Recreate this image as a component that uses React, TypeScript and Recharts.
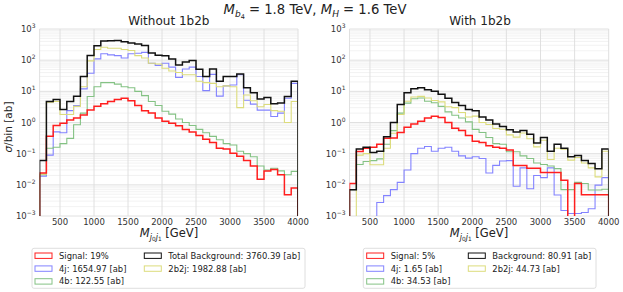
import React from 'react';
import { LineChart, Line, XAxis, YAxis, CartesianGrid } from 'recharts';

// ---- data -------------------------------------------------------------
const binEdges = [200, 300, 400, 500, 600, 700, 800, 900, 1000, 1100, 1200, 1300, 1400, 1500, 1600, 1700, 1800, 1900,
  2000, 2100, 2200, 2300, 2400, 2500, 2600, 2700, 2800, 2900, 3000, 3100, 3200, 3300, 3400, 3500, 3600, 3700, 3800, 3900];
const xTicks = [500, 1000, 1500, 2000, 2500, 3000, 3500, 4000];
const yTicks = [0.001, 0.01, 0.1, 1, 10, 100, 1000];

// Without 1b2b
const signalA = [0.024, 0.36, 0.8, 0.95, 1.2, 1.4, 1.75, 2.5, 3.3, 4.0, 4.7, 5.5, 6.0, 5.0, 3.5, 2.4, 2.0, 1.4,
  1.1, 0.95, 0.78, 0.6, 0.5, 0.38, 0.29, 0.23, 0.15, 0.14, 0.104, 0.083, 0.06, 0.04, 0.015, 0.028, 0.031, 0.021, 0.0048, 0.0079];
const fourJA = [0.019, 0.09, 0.5, 0.47, 2.4, 3.5, 12, 38, 110, 160, 148, 140, 118, 160, 166, 178, 80, 68,
  80, 60, 28, 52, 60, 30, 10.5, 35, 7, 15, 16, 34, 5.2, 3.9, 2.5, 2.5, 1.55, 2.0, 6.0, 18];
const fourBA = [0.021, 0.15, 0.16, 0.21, 0.31, 0.85, 2.0, 6.8, 14, 19, 19, 17, 14, 13, 10, 7.3, 4.7, 3.5,
  2.3, 1.85, 1.3, 1.0, 0.8, 0.6, 0.47, 0.36, 0.28, 0.21, 0.19, 0.12, 0.1, 0.08, 0.04, 0.03, 0.034, 0.028, 0.021, 0.027];
const totalA = [0.06, 4.7, 5.5, 2.6, 4.7, 7, 30, 140, 290, 410, 420, 430, 390, 355, 330, 295, 170, 145,
  138, 110, 70, 87, 97, 51, 30, 52, 21, 30, 30, 36, 13, 9, 5.7, 6.3, 4.0, 4.2, 6.8, 21];
const twoB2jA = [0.022, 4.5, 4.7, 1.8, 1.8, 3.3, 14, 95, 220, 260, 240, 240, 220, 205, 140, 118, 80, 75,
  55, 45, 40, 34, 34, 21, 19, 18, 14, 15, 14, 3.0, 7.6, 5.0, 3.2, 3.8, 2.4, 2.3, 1.0, 4.7];

// With 1b2b
const signalB = [0.011, 0.117, 0.15, 0.16, 0.2, 0.31, 0.32, 0.48, 0.7, 0.9, 1.1, 1.4, 1.6, 1.45, 1.0, 0.65, 0.55, 0.38,
  0.25, 0.23, 0.18, 0.16, 0.15, 0.13, 0.042, 0.042, 0.034, 0.034, 0.025, 0.025, 0.025, 0.014, 0.00001, 0.011, 0.0048, 0.0048, 0.0048, 0.0048];
const fourJB = [0.00001, 0.00001, 0.00001, 0.00001, 0.0027, 0.0045, 0.007, 0.012, 0.03, 0.1, 0.15, 0.17, 0.12, 0.15, 0.16, 0.12, 0.085, 0.072,
  0.08, 0.07, 0.024, 0.042, 0.058, 0.06, 0.009, 0.035, 0.0075, 0.02, 0.017, 0.035, 0.0047, 0.0015, 0.0012, 0.0012, 0.0013, 0.0017, 0.0098, 0.017];
const fourBB = [0.007, 0.045, 0.056, 0.06, 0.068, 0.2, 0.55, 2.0, 4.2, 5.8, 6.1, 4.8, 4.3, 3.3, 2.2, 1.7, 1.4, 1.05,
  0.6, 0.48, 0.33, 0.21, 0.2, 0.115, 0.115, 0.085, 0.07, 0.05, 0.045, 0.04, 0.033, 0.007, 0.007, 0.012, 0.011, 0.0068, 0.0068, 0.0072];
const totalB = [0.007, 0.14, 0.16, 0.11, 0.12, 0.35, 1.0, 3.8, 9, 12, 13, 11.3, 10, 8, 6, 4.4, 3.5, 2.6,
  2.4, 1.5, 1.2, 0.9, 0.75, 0.58, 0.5, 0.55, 0.42, 0.22, 0.33, 0.12, 0.2, 0.15, 0.08, 0.088, 0.06, 0.048, 0.033, 0.14];
const twoB2jB = [0.00001, 0.09, 0.1, 0.044, 0.044, 0.15, 0.45, 1.8, 4.8, 6.6, 6.9, 6.1, 5.1, 4.6, 3.2, 3.0, 2.1, 1.5,
  1.6, 1.0, 0.86, 0.64, 0.61, 0.4, 0.34, 0.46, 0.3, 0.165, 0.27, 0.065, 0.15, 0.14, 0.062, 0.075, 0.05, 0.035, 0.018, 0.12];

const legendA = ['Signal: 19%', '4j: 1654.97 [ab]', '4b: 122.55 [ab]', 'Total Background: 3760.39 [ab]', '2b2j: 1982.88 [ab]'];
const legendB = ['Signal: 5%', '4j: 1.65 [ab]', '4b: 34.53 [ab]', 'Background: 80.91 [ab]', '2b2j: 44.73 [ab]'];

// ---- styling ----------------------------------------------------------
const FONT = 'DejaVu Sans';
const FLOOR = 1e-6;
const C = {
  sig: '#ff1e1e',
  j4: '#8383ff',
  b4: '#84c284',
  tot: '#111111',
  y: '#dcdc7c',
};

type Series = { sig: number[]; j4: number[]; b4: number[]; tot: number[]; y: number[] };

function buildRows(s: Series) {
  const keys = Object.keys(s) as (keyof Series)[];
  const rows: any[] = [];
  const first: any = { x: binEdges[0] };
  keys.forEach((k) => (first[k] = FLOOR));
  rows.push(first);
  binEdges.forEach((e, i) => {
    const r: any = { x: e };
    keys.forEach((k) => (r[k] = s[k][i]));
    rows.push(r);
  });
  const last: any = { x: 4000 };
  keys.forEach((k) => (last[k] = s[k][s[k].length - 1]));
  rows.push(last);
  const end: any = { x: 4000 };
  keys.forEach((k) => (end[k] = FLOOR));
  rows.push(end);
  return rows;
}

const minorVals: number[] = [];
for (let d = -3; d < 3; d++) for (let m = 2; m <= 9; m++) minorVals.push(m * Math.pow(10, d));

const YTick = (props: any) => {
  const { x, y, payload } = props;
  const e = Math.round(Math.log10(payload.value));
  return (
    <text x={x} y={y + 3} textAnchor="end" fontSize={8.5} fill="#333" fontFamily={FONT}>
      10<tspan dy={-4} fontSize={6}>{e < 0 ? '\u2212' + -e : String(e)}</tspan>
    </text>
  );
};

const XTick = (props: any) => {
  const { x, y, payload } = props;
  return (
    <text x={x} y={y + 9} textAnchor="middle" fontSize={8.5} fill="#333" fontFamily={FONT}>
      {payload.value}
    </text>
  );
};

function Panel({ rows, left, width, yw, mr }: { rows: any[]; left: number; width: number; yw: number; mr: number }) {
  const H = 250;
  return (
    <div style={{ position: 'absolute', left, top: 0 }}>
      <LineChart width={width} height={H} data={rows} margin={{ top: 29, right: mr, left: 0, bottom: 14 }}>
        <CartesianGrid horizontalValues={minorVals} vertical={false} stroke="#efefef" strokeWidth={0.8} />
        <CartesianGrid horizontalValues={yTicks} verticalValues={[...xTicks, 200]} stroke="#dcdcdc" strokeWidth={0.9} />
        <XAxis
          dataKey="x"
          type="number"
          domain={[200, 4000]}
          ticks={xTicks}
          allowDataOverflow
          axisLine={false}
          tickLine={false}
          tickSize={0}
          tickMargin={0}
          height={20}
          tick={<XTick />}
          interval={0}
        />
        <YAxis
          scale="log"
          domain={[0.001, 1000]}
          ticks={yTicks}
          allowDataOverflow
          axisLine={false}
          tickLine={false}
          tickSize={0}
          tickMargin={4}
          width={yw}
          tick={<YTick />}
          interval={0}
        />
        <Line dataKey="j4" type="stepAfter" stroke={C.j4} strokeWidth={1.1} dot={false} isAnimationActive={false} />
        <Line dataKey="b4" type="stepAfter" stroke={C.b4} strokeWidth={1.1} dot={false} isAnimationActive={false} />
        <Line dataKey="y" type="stepAfter" stroke={C.y} strokeWidth={1.1} dot={false} isAnimationActive={false} />
        <Line dataKey="sig" type="stepAfter" stroke={C.sig} strokeWidth={1.5} dot={false} isAnimationActive={false} />
        <Line dataKey="tot" type="stepAfter" stroke={C.tot} strokeWidth={1.5} dot={false} isAnimationActive={false} />
      </LineChart>
    </div>
  );
}

function Legend({ x0, x1, c1, c2, labels }: { x0: number; x1: number; c1: number; c2: number; labels: string[] }) {
  const rowsY = [255.7, 268.6, 281.4];
  const items = [
    { col: c1, row: 0, color: C.sig, label: labels[0] },
    { col: c1, row: 1, color: C.j4, label: labels[1] },
    { col: c1, row: 2, color: C.b4, label: labels[2] },
    { col: c2, row: 0, color: C.tot, label: labels[3] },
    { col: c2, row: 1, color: C.y, label: labels[4] },
  ];
  return (
    <g>
      <rect x={x0} y={248.3} width={x1 - x0} height={40} rx={2} fill="#fff" stroke="#d6d6d6" strokeWidth={0.8} />
      {items.map((it, i) => (
        <g key={i}>
          <rect x={it.col} y={rowsY[it.row] - 2.7} width={17} height={5.4} fill="#fff" stroke={it.color} strokeWidth={1} />
          <text x={it.col + 24} y={rowsY[it.row] + 3} fontSize={8.4} fill="#222" fontFamily={FONT}>
            {it.label}
          </text>
        </g>
      ))}
    </g>
  );
}

const XLabel = ({ cx }: { cx: number }) => (
  <text x={cx} y={237} textAnchor="middle" fontSize={11.5} fill="#222" fontFamily={FONT}>
    <tspan fontStyle="italic">M</tspan>
    <tspan fontSize={8} dy={2.5} fontStyle="italic">j</tspan>
    <tspan fontSize={5.8} dy={1.5}>0</tspan>
    <tspan fontSize={8} dy={-1.5} fontStyle="italic">j</tspan>
    <tspan fontSize={5.8} dy={1.5}>1</tspan>
    <tspan dy={-4} style={{ whiteSpace: 'pre' }}> [GeV]</tspan>
  </text>
);

export default function App() {
  const rowsA = buildRows({ sig: signalA, j4: fourJA, b4: fourBA, tot: totalA, y: twoB2jA });
  const rowsB = buildRows({ sig: signalB, j4: fourJB, b4: fourBB, tot: totalB, y: twoB2jB });
  return (
    <div style={{ position: 'absolute', left: 0, top: 0, width: 623, height: 292, background: '#fff', overflow: 'hidden' }}>
      <Panel rows={rowsA} left={0} width={310} yw={39.6} mr={12} />
      <Panel rows={rowsB} left={310} width={313} yw={39.5} mr={14.3} />
      <svg width={623} height={292} style={{ position: 'absolute', left: 0, top: 0, pointerEvents: 'none' }}>
        <text x={315} y={14} textAnchor="middle" fontSize={13.2} fill="#222" fontFamily={FONT} style={{ whiteSpace: 'pre' }}>
          <tspan fontStyle="italic">M</tspan>
          <tspan fontSize={9} dy={3} fontStyle="italic">b</tspan>
          <tspan fontSize={6.5} dy={1.5}>4</tspan>
          <tspan dy={-4.5}> = 1.8 TeV, </tspan>
          <tspan fontStyle="italic">M</tspan>
          <tspan fontSize={9} dy={3} fontStyle="italic">H</tspan>
          <tspan dy={-3}> = 1.6 TeV</tspan>
        </text>
        <text x={168.8} y={25} textAnchor="middle" fontSize={12} fill="#222" fontFamily={FONT}>Without 1b2b</text>
        <text x={480} y={25} textAnchor="middle" fontSize={12} fill="#222" fontFamily={FONT}>With 1b2b</text>
        <text
          x={0}
          y={0}
          transform="translate(11.5,127) rotate(-90)"
          textAnchor="middle"
          fontSize={10.5}
          fill="#222"
          fontFamily={FONT}
        >
          <tspan fontStyle="italic">σ</tspan>/bin [ab]
        </text>
        <XLabel cx={169} />
        <XLabel cx={479} />
        <Legend x0={32} x1={305} c1={35} c2={144.3} labels={legendA} />
        <Legend x0={363.3} x1={596} c1={366.7} c2={468.3} labels={legendB} />
      </svg>
    </div>
  );
}
